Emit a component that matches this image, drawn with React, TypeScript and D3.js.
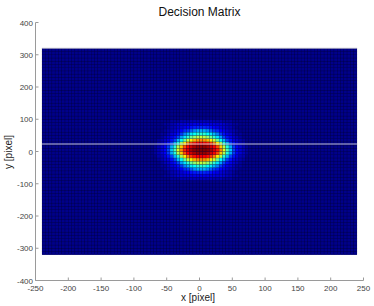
import React from "react";
import * as d3 from "d3";

const title = "Decision Matrix";
const xLabel = "x [pixel]";
const yLabel = "y [pixel]";
const xTicks = [-250, -200, -150, -100, -50, 0, 50, 100, 150, 200, 250];
const yTicks = [-400, -300, -200, -100, 0, 100, 200, 300, 400];
const gridXStarts = d3.range(-240, 240, 5);
const gridYStarts = d3.range(-320, 320, 10);
const cellW = 5;
const cellH = 10;
const peakFirstCol = -75;
const peakTopRowY = 90;
const rules = [23, 320];

// Estimated heat values (0-100), read by eye; the rest of the field is 0.
const peakRows = [
  [0,0,0,0,0,0,2,2,2,4,4,4,5,5,5,5,5,5,5,4,4,4,2,2,2,0,0,0,0,0,0],
  [0,0,0,0,2,2,4,5,7,8,8,9,9,10,10,10,10,10,9,9,8,8,7,5,4,2,2,0,0,0,0],
  [0,0,0,0,0,2,4,5,7,8,10,12,14,15,16,16,16,15,14,12,10,8,7,5,4,2,0,0,0,0,0],
  [0,0,0,0,2,4,5,7,10,13,16,18,22,26,29,29,29,26,22,18,16,13,10,7,5,4,2,0,0,0,0],
  [0,0,0,2,2,5,8,10,14,18,25,30,35,38,41,41,41,38,35,30,25,18,14,10,8,5,2,2,0,0,0],
  [0,0,0,2,5,7,10,14,19,28,35,42,48,52,55,57,55,52,48,42,35,28,19,14,10,7,5,2,0,0,0],
  [0,0,2,4,7,9,14,19,30,38,48,57,64,70,73,74,73,70,64,57,48,38,30,19,14,9,7,4,2,0,0],
  [0,0,4,5,9,14,19,30,41,54,64,75,82,86,88,89,88,86,82,75,64,54,41,30,19,14,9,5,4,0,0],
  [0,2,5,8,12,18,29,41,55,68,80,87,92,96,98,98,98,96,92,87,80,68,55,41,29,18,12,8,5,2,0],
  [0,2,5,8,13,19,32,45,60,74,85,91,96,99,100,100,100,99,96,91,85,74,60,45,32,19,13,8,5,2,0],
  [0,2,5,8,12,18,29,41,55,68,80,87,92,96,98,98,98,96,92,87,80,68,55,41,29,18,12,8,5,2,0],
  [0,0,4,5,9,14,19,30,41,54,64,75,82,86,88,89,88,86,82,75,64,54,41,30,19,14,9,5,4,0,0],
  [0,0,2,4,7,9,14,19,30,38,48,57,64,70,73,74,73,70,64,57,48,38,30,19,14,9,7,4,2,0,0],
  [0,0,0,2,5,7,10,14,19,28,35,42,48,52,55,57,55,52,48,42,35,28,19,14,10,7,5,2,0,0,0],
  [0,0,0,2,2,5,8,10,14,18,25,30,35,38,41,41,41,38,35,30,25,18,14,10,8,5,2,2,0,0,0],
  [0,0,0,0,2,4,5,7,10,13,16,18,22,26,29,29,29,26,22,18,16,13,10,7,5,4,2,0,0,0,0],
  [0,0,0,0,0,2,4,5,7,8,10,12,14,15,16,16,16,15,14,12,10,8,7,5,4,2,0,0,0,0,0],
  [0,0,0,0,2,2,4,5,7,8,8,9,9,10,10,10,10,10,9,9,8,8,7,5,4,2,2,0,0,0,0],
  [0,0,0,0,0,0,2,2,2,4,4,4,5,5,5,5,5,5,5,4,4,4,2,2,2,0,0,0,0,0,0],
];

const x = d3.scaleLinear().domain([-250, 250]).range([35.5, 363.5]);
const y = d3.scaleLinear().domain([-400, 400]).range([280.5, 22.5]);
const jet = d3
  .scaleLinear<string>()
  .domain([0, 12.5, 37.5, 62.5, 87.5, 100])
  .range(["#00008a", "#0000ff", "#00ffff", "#ffff00", "#ff0000", "#800000"]);

function valueAt(xs: number, ys: number): number {
  const c = Math.round((xs - peakFirstCol) / cellW);
  const r = Math.round((peakTopRowY - ys) / cellH);
  return peakRows[r]?.[c] ?? 0;
}

const font = "'Liberation Sans', Arial, sans-serif";
const axisColor = "#9a9a9a";
const tickText = "#444";

export default function App() {
  return (
    <svg
      width={374}
      height={306}
      style={{ position: "absolute", left: 0, top: 0, background: "#fff" }}
      fontFamily={font}
    >
      <defs>
        <filter id="soft" x="-2%" y="-2%" width="104%" height="104%">
          <feGaussianBlur stdDeviation="0.4" />
        </filter>
      </defs>
      <g filter="url(#soft)">
        <rect
          x={x(-240)}
          y={y(320)}
          width={x(240) - x(-240)}
          height={y(-320) - y(320)}
          fill="#00008a"
        />
        {gridYStarts.map((ys) =>
          gridXStarts.map((xs) => (
            <rect
              key={`${xs}_${ys}`}
              x={x(xs)}
              y={y(ys + cellH)}
              width={x(xs + cellW) - x(xs)}
              height={y(ys) - y(ys + cellH)}
              fill={jet(valueAt(xs, ys))}
              stroke="#000"
              strokeOpacity={0.3}
              strokeWidth={0.5}
            />
          ))
        )}
        {rules.map((r) => (
          <line
            key={r}
            x1={x(-240)}
            x2={x(240)}
            y1={y(r)}
            y2={y(r)}
            stroke="#d0d0dc"
            strokeOpacity={0.62}
            strokeWidth={1.5}
          />
        ))}
      </g>
      <line x1={x(-250)} x2={x(-250)} y1={y(400)} y2={y(-400)} stroke={axisColor} strokeWidth={1} />
      <line x1={x(-250)} x2={x(250)} y1={y(-400)} y2={y(-400)} stroke={axisColor} strokeWidth={1} />
      {xTicks.map((t) => (
        <g key={t}>
          <line x1={x(t)} x2={x(t)} y1={y(-400)} y2={y(-400) - 3} stroke={axisColor} />
          <text x={x(t)} y={290.5} textAnchor="middle" fontSize={8} fill={tickText}>
            {t}
          </text>
        </g>
      ))}
      {yTicks.map((t) => (
        <g key={t}>
          <line x1={x(-250)} x2={x(-250) + 3} y1={y(t)} y2={y(t)} stroke={axisColor} />
          <text x={33} y={y(t) + 3} textAnchor="end" fontSize={8} fill={tickText}>
            {t}
          </text>
        </g>
      ))}
      <text x={199.5} y={16} textAnchor="middle" fontSize={12} fill="#111">
        {title}
      </text>
      <text x={198} y={301} textAnchor="middle" fontSize={10} fill="#222">
        {xLabel}
      </text>
      <text
        transform="translate(12,152) rotate(-90)"
        textAnchor="middle"
        fontSize={10}
        fill="#222"
      >
        {yLabel}
      </text>
    </svg>
  );
}
